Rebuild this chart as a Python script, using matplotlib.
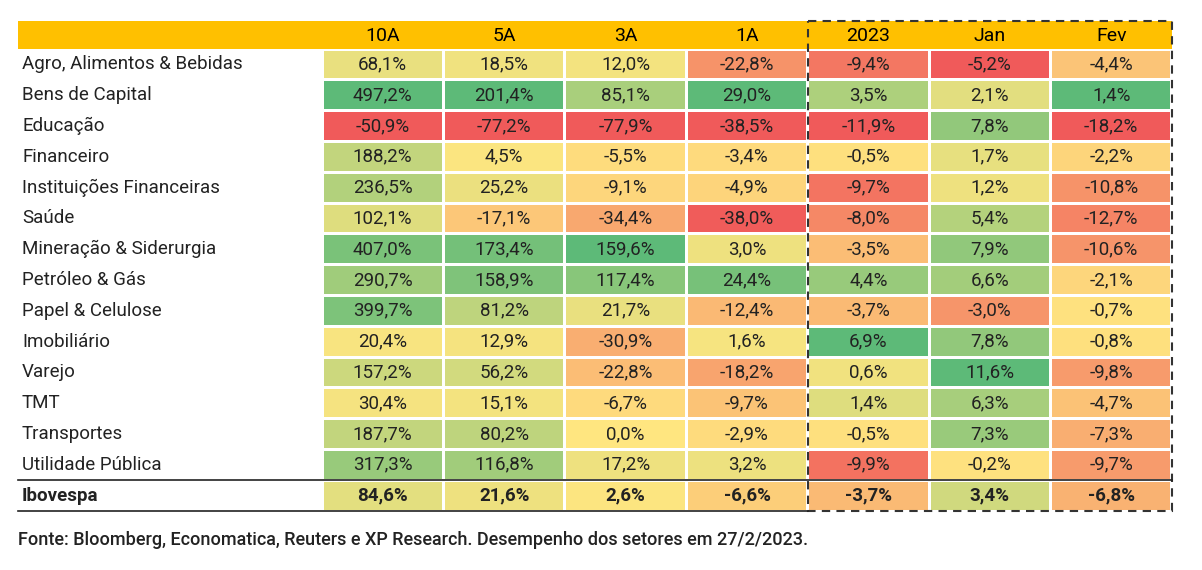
import numpy as np
import matplotlib
matplotlib.use("Agg")
import matplotlib.pyplot as plt
from matplotlib.colors import to_rgb

columns = ["10A", "5A", "3A", "1A", "2023", "Jan", "Fev"]
sectors = ["Agro, Alimentos & Bebidas", "Bens de Capital", "Educação", "Financeiro",
           "Instituições Financeiras", "Saúde", "Mineração & Siderurgia", "Petróleo & Gás",
           "Papel & Celulose", "Imobiliário", "Varejo", "TMT", "Transportes",
           "Utilidade Pública", "Ibovespa"]
col_10a = [68.1, 497.2, -50.9, 188.2, 236.5, 102.1, 407.0, 290.7, 399.7, 20.4, 157.2, 30.4, 187.7, 317.3, 84.6]
col_5a = [18.5, 201.4, -77.2, 4.5, 25.2, -17.1, 173.4, 158.9, 81.2, 12.9, 56.2, 15.1, 80.2, 116.8, 21.6]
col_3a = [12.0, 85.1, -77.9, -5.5, -9.1, -34.4, 159.6, 117.4, 21.7, -30.9, -22.8, -6.7, 0.0, 17.2, 2.6]
col_1a = [-22.8, 29.0, -38.5, -3.4, -4.9, -38.0, 3.0, 24.4, -12.4, 1.6, -18.2, -9.7, -2.9, 3.2, -6.6]
col_2023 = [-9.4, 3.5, -11.9, -0.5, -9.7, -8.0, -3.5, 4.4, -3.7, 6.9, 0.6, 1.4, -0.5, -9.9, -3.7]
col_jan = [-5.2, 2.1, 7.8, 1.7, 1.2, 5.4, 7.9, 6.6, -3.0, 7.8, 11.6, 6.3, 7.3, -0.2, 3.4]
col_fev = [-4.4, 1.4, -18.2, -2.2, -10.8, -12.7, -10.6, -2.1, -0.7, -0.8, -9.8, -4.7, -7.3, -9.7, -6.8]
footnote = "Fonte: Bloomberg, Economatica, Reuters e XP Research. Desempenho dos setores em 27/2/2023."

data = np.array([col_10a, col_5a, col_3a, col_1a, col_2023, col_jan, col_fev]).T

red, yel, grn = to_rgb("#F05A5A"), to_rgb("#FFE680"), to_rgb("#5DBA78")


def cell_color(v, col):
    # 3-colour scale with the midpoint at zero
    lo, mid, hi = col.min(), 0.0, col.max()
    if v <= mid:
        t = (v - lo) / (mid - lo) if mid > lo else 1
        return tuple(r + (y - r) * t for r, y in zip(red, yel))
    t = (v - mid) / (hi - mid) if hi > mid else 0
    return tuple(y + (g - y) * t for y, g in zip(yel, grn))


plt.rcParams['font.family'] = ['Roboto', 'DejaVu Sans']
fig = plt.figure(figsize=(12.02, 5.70), dpi=100)
ax = fig.add_axes([0, 0, 1, 1])
ax.set_xlim(0, 1202)
ax.set_ylim(570, 0)
ax.axis('off')

left, label_w, right = 18, 304, 1172
col_w = (right - left - label_w) / len(columns)
top, head_h = 21, 28
row_h = (511 - top - head_h) / len(sectors)
gap = 1.5

ax.add_patch(plt.Rectangle((left, top), right - left, head_h, color="#FFC000", lw=0))
for j, c in enumerate(columns):
    x0 = left + label_w + j * col_w
    ax.text(x0 + col_w / 2, top + head_h / 2 + 1, c, ha='center', va='center', fontsize=14)

for i, s in enumerate(sectors):
    y0 = top + head_h + i * row_h
    bold = s == "Ibovespa"
    ax.text(left + 4, y0 + row_h / 2, s, ha='left', va='center', fontsize=13.5,
            fontweight='bold' if bold else 'normal', color="#222222")
    for j in range(len(columns)):
        x0 = left + label_w + j * col_w
        v = data[i, j]
        ax.add_patch(plt.Rectangle((x0 + gap, y0 + gap), col_w - 2 * gap, row_h - 2 * gap,
                                   color=cell_color(v, data[:, j]), lw=0))
        txt = f"{v:.1f}%".replace(".", ",")
        ax.text(x0 + col_w / 2, y0 + row_h / 2, txt, ha='center', va='center', fontsize=13.5,
                fontweight='bold' if bold else 'normal', color="#222222")

ibov_y = top + head_h + (len(sectors) - 1) * row_h
bottom = top + head_h + len(sectors) * row_h
box_x = left + label_w + 4 * col_w
ax.plot([left, right], [ibov_y, ibov_y], color="#222222", lw=1.2)
ax.plot([left, box_x], [bottom, bottom], color="#222222", lw=1.2)
ax.add_patch(plt.Rectangle((box_x, top), right - box_x, bottom - top, fill=False,
                           ec="#333333", lw=1.5, ls=(0, (4, 3))))

ax.text(left, 540, footnote, ha='left', va='center', fontsize=13, fontweight='medium',
        color="#222222")

fig.savefig("out.png", dpi=100)
